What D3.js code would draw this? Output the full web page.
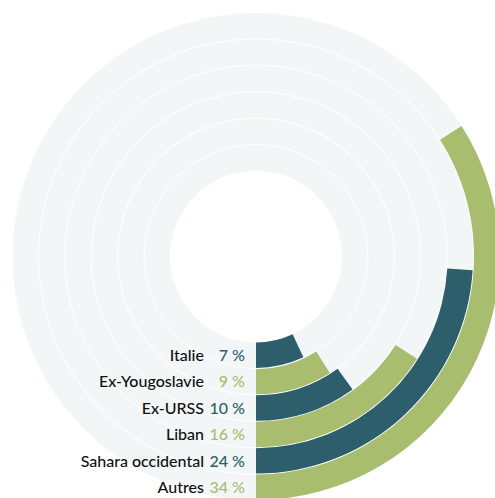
<!DOCTYPE html>
<html>
<head>
<meta charset="utf-8">
<script src="https://cdn.jsdelivr.net/npm/d3@7"></script>
<style>
  html, body { margin: 0; padding: 0; background: #fff; }
  svg { display: block; }
</style>
</head>
<body>
<div id="chart"></div>
<script>
const categories = ["Italie", "Ex-Yougoslavie", "Ex-URSS", "Liban", "Sahara occidental", "Autres"];
const values = [7, 9, 10, 16, 24, 34];
const barColors = ["#2c5f6b", "#a8bd6e", "#2c5f6b", "#a8bd6e", "#2c5f6b", "#a8bd6e"];

const width = 495;
const height = 498;
const cx = 256;
const cy = 256.5;
const innerR = 85.5;
const outerR = 244;

const svg = d3
  .select("#chart")
  .append("svg")
  .attr("width", width)
  .attr("height", height);

const g = svg.append("g").attr("transform", `translate(${cx},${cy})`);

// ring bands, one per category
const y = d3.scaleBand().domain(categories).range([innerR, outerR]).padding(0);

// 100 % = full turn, starting at 6 o'clock and going counter-clockwise
const angle = d3.scaleLinear().domain([0, 100]).range([Math.PI, -Math.PI]);

const arc = d3
  .arc()
  .innerRadius((d) => y(d.name) + 0.5)
  .outerRadius((d) => y(d.name) + y.bandwidth() - 0.5)
  .startAngle(angle(0))
  .endAngle((d) => angle(d.value));

const rows = categories.map((name, i) => ({ name, value: values[i], color: barColors[i] }));

// background tracks
g.append("g")
  .selectAll("path")
  .data(rows)
  .join("path")
  .attr("fill", "#f2f6f7")
  .attr("d", (d) => arc({ name: d.name, value: 100 }));

// bars
g.append("g")
  .selectAll("path")
  .data(rows)
  .join("path")
  .attr("fill", (d) => d.color)
  .attr("d", arc);

// labels on the left of the bar start
const labels = g
  .append("g")
  .style("font-family", "Lato, sans-serif")
  .style("font-size", "16px")
  .style("font-weight", 500)
  .selectAll("g")
  .data(rows)
  .join("g")
  .attr("transform", (d) => `translate(0,${y(d.name) + y.bandwidth() / 2})`);

labels
  .append("text")
  .attr("x", -52)
  .attr("dy", "0.36em")
  .attr("text-anchor", "end")
  .attr("fill", "#111")
  .text((d) => d.name);

labels
  .append("text")
  .attr("x", -11)
  .attr("dy", "0.36em")
  .attr("text-anchor", "end")
  .attr("fill", (d) => d.color)
  .text((d) => d.value + "\u202f%");
</script>
</body>
</html>
